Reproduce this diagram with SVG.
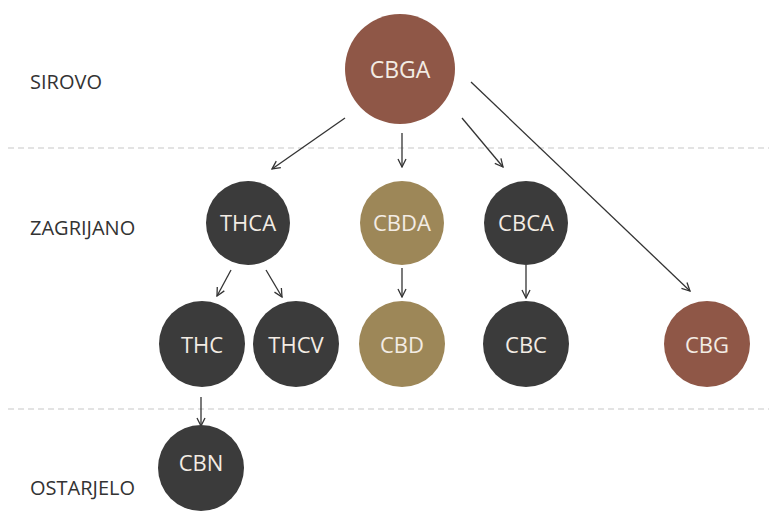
<svg xmlns="http://www.w3.org/2000/svg" width="769" height="512" viewBox="0 0 769 512">
<defs>
<marker id="ah" viewBox="0 0 10 10" refX="9" refY="5" markerWidth="10" markerHeight="10" markerUnits="userSpaceOnUse" orient="auto">
<path d="M1,1 L9,5 L1,9" fill="none" stroke="#333" stroke-width="1.3"/>
</marker>
<style>
.lbl{font-family:"Open Sans","Liberation Sans",sans-serif;font-size:20px;fill:#333}
.nt{font-family:"Open Sans","Liberation Sans",sans-serif;font-size:22px;fill:#f3ece4;text-anchor:middle;dominant-baseline:central}
.big{font-size:23px}
.dark{fill:#3b3b3b}
.gold{fill:#9d8758}
.brown{fill:#8f5747}
.c line{stroke:#333;stroke-width:1.3;marker-end:url(#ah)}
.sep{stroke:#c8c8c8;stroke-width:1.2;stroke-dasharray:6 4}
</style>
</defs>
<rect width="769" height="512" fill="#ffffff"/>
<line class="sep" x1="8" y1="148" x2="769" y2="148"/>
<line class="sep" x1="8" y1="409" x2="769" y2="409"/>
<text class="lbl" x="30" y="89">SIROVO</text>
<text class="lbl" x="30" y="235">ZAGRIJANO</text>
<text class="lbl" x="30" y="495">OSTARJELO</text>
<g class="c">
<line x1="345" y1="118" x2="272" y2="169"/>
<line x1="402" y1="133" x2="402" y2="167"/>
<line x1="462" y1="118" x2="503" y2="167"/>
<line x1="471" y1="82" x2="690" y2="291"/>
<line x1="231" y1="270" x2="217" y2="296"/>
<line x1="266" y1="270" x2="282" y2="297"/>
<line x1="402" y1="268" x2="402" y2="297"/>
<line x1="526" y1="265" x2="526" y2="298"/>
<line x1="201" y1="397" x2="201" y2="426"/>
</g>
<g id="CBGA"><circle class="brown" cx="400" cy="69" r="55"/><text class="nt big" x="400" y="69">CBGA</text></g>
<g id="THCA"><circle class="dark" cx="248" cy="223" r="42"/><text class="nt" x="248" y="222">THCA</text></g>
<g id="CBDA"><circle class="gold" cx="402" cy="223" r="42"/><text class="nt" x="402" y="222">CBDA</text></g>
<g id="CBCA"><circle class="dark" cx="526" cy="223" r="42"/><text class="nt" x="526" y="222">CBCA</text></g>
<g id="THC"><circle class="dark" cx="202" cy="344" r="43"/><text class="nt" x="202" y="344">THC</text></g>
<g id="THCV"><circle class="dark" cx="296" cy="344" r="43"/><text class="nt" x="296" y="344">THCV</text></g>
<g id="CBD"><circle class="gold" cx="402" cy="344" r="43"/><text class="nt" x="402" y="344">CBD</text></g>
<g id="CBC"><circle class="dark" cx="526" cy="344" r="43"/><text class="nt" x="526" y="344">CBC</text></g>
<g id="CBG"><circle class="brown" cx="707" cy="344" r="43"/><text class="nt" x="707" y="344">CBG</text></g>
<g id="CBN"><circle class="dark" cx="201" cy="468" r="43"/><text class="nt" x="201" y="462">CBN</text></g>
</svg>
